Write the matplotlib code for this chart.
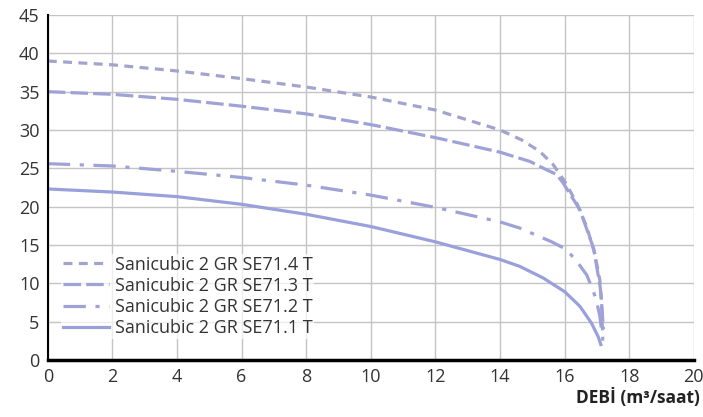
import matplotlib.pyplot as plt
import numpy as np

plt.rcParams['font.family'] = ['Open Sans', 'DejaVu Sans']

# debi (m3/saat) ve basma yuksekligi (m)
x_714 = [0, 2, 4, 6, 8, 10, 12, 14, 14.67, 15.23, 15.64, 16.0, 16.37, 16.68, 16.93, 17.09, 17.14, 17.18]
y_714 = [39.0, 38.5, 37.7, 36.7, 35.6, 34.3, 32.6, 30.0, 28.7, 27.2, 25.5, 23.3, 20.5, 17.4, 13.9, 10.4, 7.8, 2.5]

x_713 = [0, 2, 4, 6, 8, 10, 12, 14, 14.92, 15.44, 15.75, 15.95, 16.47, 16.9, 17.1, 17.16, 17.2]
y_713 = [35.0, 34.65, 34.0, 33.1, 32.1, 30.7, 29.0, 27.1, 25.9, 24.8, 24.2, 23.1, 19.6, 14.5, 9.5, 6.5, 4.0]

x_712 = [0, 2, 4, 6, 8, 10, 12, 14, 14.61, 15.6, 16.06, 16.42, 16.68, 16.88, 17.0, 17.09, 17.14]
y_712 = [25.6, 25.3, 24.6, 23.8, 22.8, 21.5, 19.9, 18.0, 17.2, 15.4, 14.4, 12.6, 11.1, 9.1, 7.4, 5.7, 4.0]

x_711 = [0, 2, 4, 6, 8, 10, 12, 14, 14.61, 15.33, 16.0, 16.47, 16.83, 17.04, 17.12]
y_711 = [22.3, 21.9, 21.3, 20.3, 19.0, 17.4, 15.4, 13.1, 12.2, 10.7, 8.9, 7.0, 4.8, 3.0, 2.0]

labels = ["Sanicubic 2 GR SE71.4 T", "Sanicubic 2 GR SE71.3 T",
          "Sanicubic 2 GR SE71.2 T", "Sanicubic 2 GR SE71.1 T"]
xticks = np.arange(0, 21, 2)
yticks = np.arange(0, 46, 5)

fig = plt.figure(figsize=(7.03, 4.17), dpi=100)
ax = fig.add_axes([0.068, 0.137, 0.919, 0.827])

lw = 2.3
ax.plot(x_714, y_714, color='#a2a4cc', lw=lw, dashes=(2.8, 2.0), label=labels[0])
ax.plot(x_713, y_713, color='#9ea2d6', lw=lw, dashes=(5.5, 1.6), label=labels[1])
ax.plot(x_712, y_712, color='#9ea2d6', lw=lw, dashes=(7.0, 3.0, 1.3, 3.0), label=labels[2])
ax.plot(x_711, y_711, color='#9aa0dc', lw=lw, label=labels[3])

ax.set_xlim(0, 20)
ax.set_ylim(0, 45)
ax.set_xticks(xticks)
ax.set_yticks(yticks)
ax.grid(True, color='#c4c4c4', lw=1)
ax.set_axisbelow(True)
ax.tick_params(length=0, labelsize=13, colors='#333333', pad=6)
for s in ['top', 'right']:
    ax.spines[s].set_visible(False)
ax.spines['left'].set_linewidth(1.5)
ax.spines['bottom'].set_linewidth(2.5)
ax.spines['left'].set_color('black')
ax.spines['bottom'].set_color('black')

leg = ax.legend(loc='center left', bbox_to_anchor=(0.02, 0.184), fontsize=13,
                frameon=True, framealpha=0.7, edgecolor='none', borderpad=0.1,
                handlelength=2.6, handletextpad=0.3, labelspacing=0.18,
                borderaxespad=0)
for t in leg.get_texts():
    t.set_color('#333333')

fig.text(0.995, 0.025, 'DEBİ (m³/saat)', ha='right', va='bottom',
         fontsize=12.5, fontweight='bold', color='#222222')

fig.savefig('out.png', dpi=100)
